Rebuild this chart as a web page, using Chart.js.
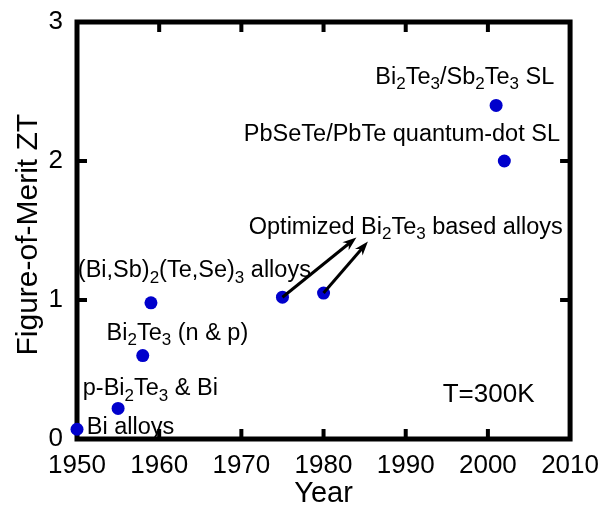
<!DOCTYPE html>
<html>
<head>
<meta charset="utf-8">
<script src="https://cdn.jsdelivr.net/npm/chart.js@4"></script>
<style>
  html, body { margin: 0; padding: 0; background: #fff; }
  #wrap { width: 605px; height: 507px; }
</style>
</head>
<body>
<div id="wrap"><canvas id="ztChart"></canvas></div>
<script>
// measured ZT values
const years = [1950, 1955, 1958, 1959, 1975, 1980, 2001, 2002];
const ztValues = [0.07, 0.22, 0.60, 0.98, 1.02, 1.05, 2.40, 2.00];

const yearTicks = [1950, 1960, 1970, 1980, 1990, 2000, 2010];
const ztTicks = [0, 1, 2, 3];

// annotation text ("_x" = subscript x) and where it sits, in data units
const noteTexts = [
  'Bi alloys',
  'p-Bi_2Te_3 & Bi',
  'Bi_2Te_3 (n & p)',
  '(Bi,Sb)_2(Te,Se)_3 alloys',
  'Optimized Bi_2Te_3 based alloys',
  'PbSeTe/PbTe quantum-dot SL',
  'Bi_2Te_3/Sb_2Te_3 SL'
];
const noteYears = [1951.2, 1950.7, 1953.6, 1950.1, 1970.9, 1970.3, 1986.3];
const noteZT = [0.086, 0.36, 0.76, 1.21, 1.52, 2.19, 2.60];

// arrows start at points 4 and 5
const arrowFrom = [4, 5];
const arrowTipYears = [1984.0, 1985.4];
const arrowTipZT = [1.45, 1.42];

const FONT = '"Liberation Sans", Arial, sans-serif';

function drawRich(ctx, str, x, y, size) {
  let runs = [];
  let buf = '';
  for (let i = 0; i < str.length; i++) {
    if (str[i] === '_') {
      if (buf) runs.push({ t: buf, sub: false });
      buf = '';
      runs.push({ t: str[++i], sub: true });
    } else {
      buf += str[i];
    }
  }
  if (buf) runs.push({ t: buf, sub: false });

  let cx = x;
  runs.forEach(r => {
    const fs = r.sub ? Math.round(size * 0.74) : size;
    ctx.font = fs + 'px ' + FONT;
    ctx.fillText(r.t, cx, r.sub ? y + size * 0.3 : y);
    cx += ctx.measureText(r.t).width;
  });
}

function drawArrow(ctx, x1, y1, x2, y2) {
  const ang = Math.atan2(y2 - y1, x2 - x1);
  const c = Math.cos(ang), s = Math.sin(ang);
  const head = 14, half = 5;
  const bx = x2 - head * c, by = y2 - head * s;
  ctx.beginPath();
  ctx.moveTo(x1, y1);
  ctx.lineTo(x2 - head * 0.6 * c, y2 - head * 0.6 * s);
  ctx.stroke();
  ctx.beginPath();
  ctx.moveTo(x2, y2);
  ctx.lineTo(bx + half * s, by - half * c);
  ctx.lineTo(x2 - head * 0.7 * c, y2 - head * 0.7 * s);
  ctx.lineTo(bx - half * s, by + half * c);
  ctx.closePath();
  ctx.fill();
}

const framePlugin = {
  id: 'frame',
  beforeDatasetsDraw(chart) {
    const { ctx, chartArea: a, scales: { x, y } } = chart;
    ctx.save();
    ctx.strokeStyle = '#000';
    ctx.lineWidth = 5;
    ctx.strokeRect(a.left, a.top, a.right - a.left, a.bottom - a.top);

    // inner ticks on all four sides
    ctx.lineWidth = 4;
    ctx.beginPath();
    x.ticks.forEach(t => {
      if (t.value <= x.min || t.value >= x.max) return;
      const px = x.getPixelForValue(t.value);
      ctx.moveTo(px, a.bottom); ctx.lineTo(px, a.bottom - 10);
      ctx.moveTo(px, a.top); ctx.lineTo(px, a.top + 10);
    });
    y.ticks.forEach(t => {
      if (t.value <= y.min || t.value >= y.max) return;
      const py = y.getPixelForValue(t.value);
      ctx.moveTo(a.left, py); ctx.lineTo(a.left + 10, py);
      ctx.moveTo(a.right, py); ctx.lineTo(a.right - 10, py);
    });
    ctx.stroke();
    ctx.restore();
  },
  afterDatasetsDraw(chart) {
    const { ctx, scales: { x, y } } = chart;
    ctx.save();
    ctx.fillStyle = '#000';
    ctx.strokeStyle = '#000';
    ctx.textBaseline = 'middle';
    ctx.textAlign = 'left';

    noteTexts.forEach((txt, i) => {
      drawRich(ctx, txt, x.getPixelForValue(noteYears[i]), y.getPixelForValue(noteZT[i]), 23.5);
    });

    ctx.font = '26px ' + FONT;
    ctx.fillText('T=300K', x.getPixelForValue(1994.5), y.getPixelForValue(0.32));

    ctx.lineWidth = 3;
    arrowFrom.forEach((idx, i) => {
      drawArrow(ctx,
        x.getPixelForValue(years[idx]), y.getPixelForValue(ztValues[idx]),
        x.getPixelForValue(arrowTipYears[i]), y.getPixelForValue(arrowTipZT[i]));
    });
    ctx.restore();
  }
};

const ctx = document.getElementById('ztChart').getContext('2d');
new Chart(ctx, {
  type: 'scatter',
  data: {
    datasets: [{
      data: years.map((yr, i) => ({ x: yr, y: ztValues[i] })),
      backgroundColor: '#0000cc',
      borderWidth: 0,
      pointRadius: 6.5,
      clip: false
    }]
  },
  options: {
    responsive: true,
    maintainAspectRatio: false,
    animation: false,
    layout: { padding: { top: 22, right: 32, left: 0, bottom: 0 } },
    plugins: { legend: { display: false }, tooltip: { enabled: false } },
    scales: {
      x: {
        type: 'linear',
        min: 1950,
        max: 2010,
        afterBuildTicks: s => { s.ticks = yearTicks.map(v => ({ value: v })); },
        afterFit: s => { s.height = 68; },
        grid: { display: false },
        border: { display: false },
        ticks: {
          color: '#000',
          padding: 6,
          maxRotation: 0,
          callback: v => String(v),
          font: { family: FONT, size: 26, lineHeight: 1 }
        },
        title: {
          display: true,
          text: 'Year',
          color: '#000',
          padding: { top: 0, bottom: -1 },
          font: { family: FONT, size: 29, lineHeight: 1 }
        }
      },
      y: {
        min: 0,
        max: 3,
        afterBuildTicks: s => { s.ticks = ztTicks.map(v => ({ value: v })); },
        afterFit: s => { s.width = 77; },
        grid: { display: false },
        border: { display: false },
        ticks: {
          color: '#000',
          padding: 6,
          font: { family: FONT, size: 26, lineHeight: 1 }
        },
        title: {
          display: true,
          text: 'Figure-of-Merit ZT ',
          color: '#000',
          padding: { top: 14, bottom: 0 },
          font: { family: FONT, size: 30, lineHeight: 1 }
        }
      }
    }
  },
  plugins: [framePlugin]
});
</script>
</body>
</html>
